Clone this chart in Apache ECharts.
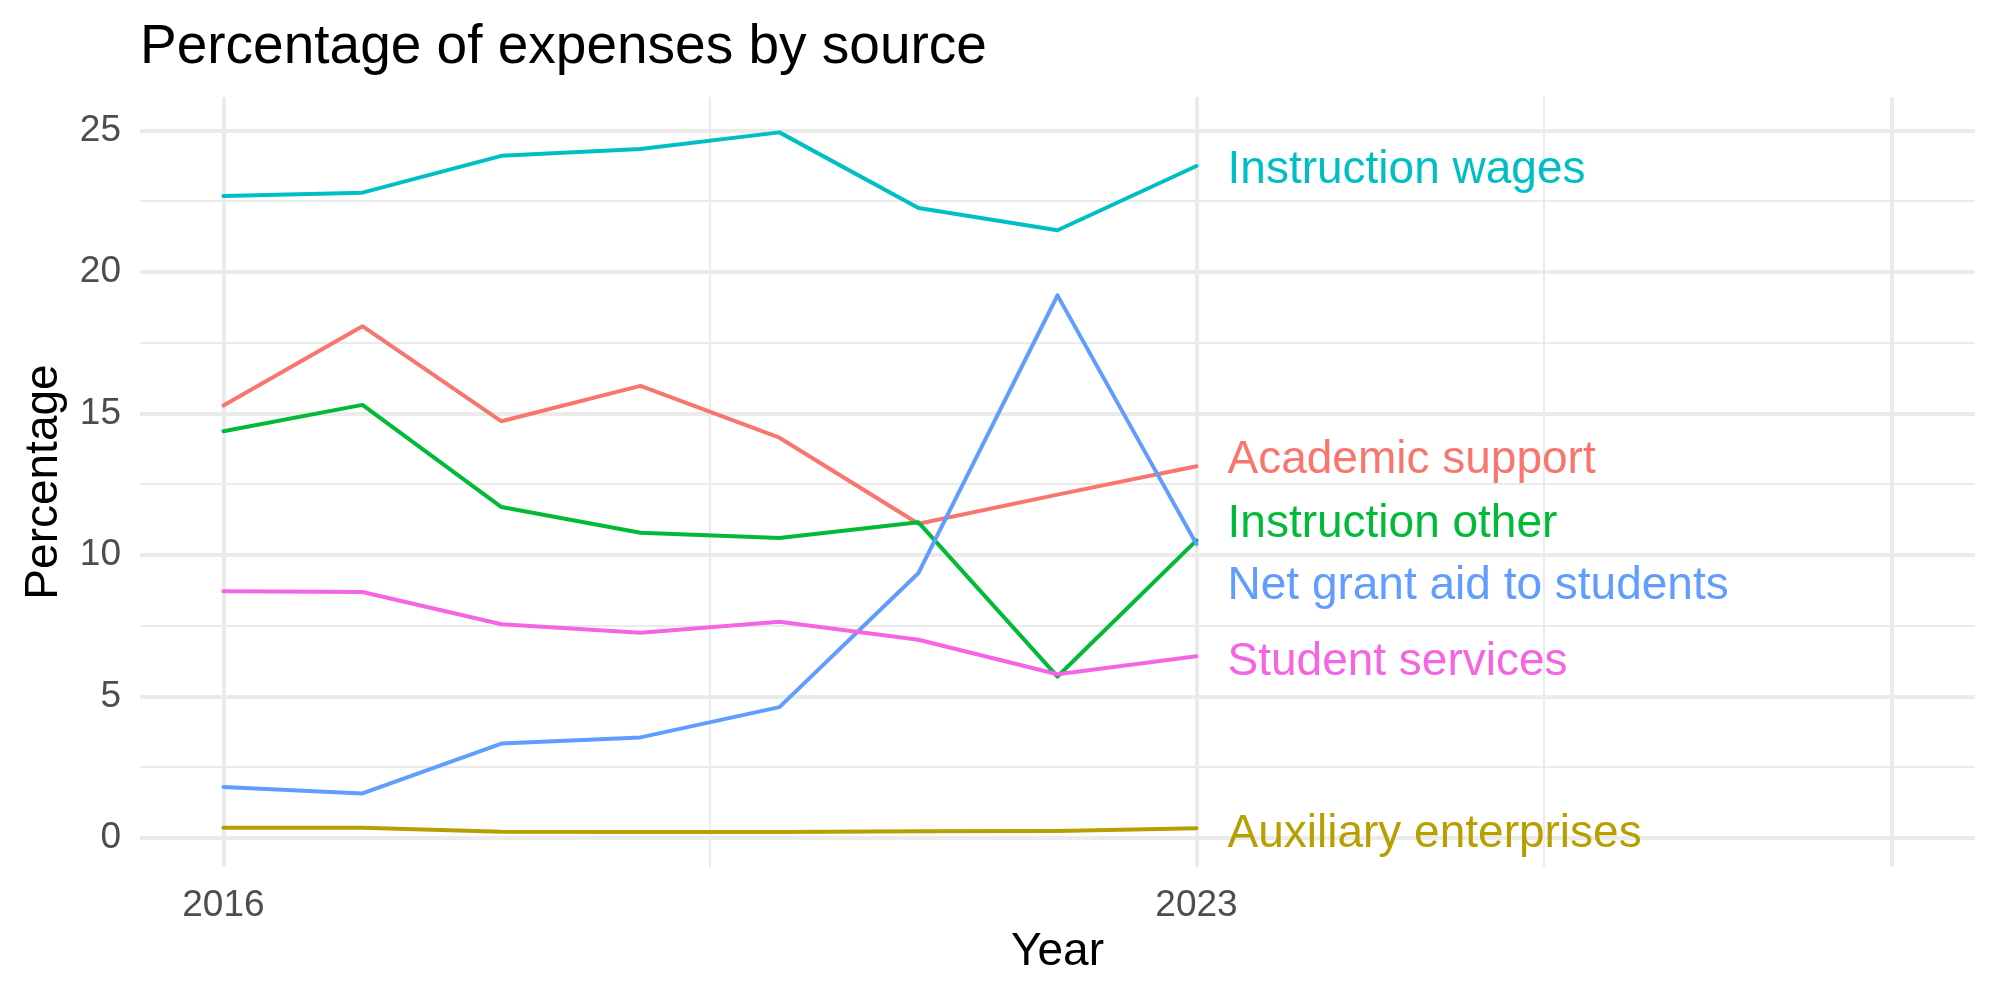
<!DOCTYPE html>
<html>
<head>
<meta charset="utf-8">
<script src="https://cdn.jsdelivr.net/npm/echarts@6/dist/echarts.min.js"></script>
<style>
html, body { margin: 0; padding: 0; background: #fff; }
#main { width: 2000px; height: 1000px; }
</style>
</head>
<body>
<div id="main"></div>
<script>
// data
const years = [2016, 2017, 2018, 2019, 2020, 2021, 2022, 2023];
const academicSupport = [15.28, 18.08, 14.72, 15.97, 14.14, 11.10, 12.13, 13.13];
const auxiliaryEnterprises = [0.36, 0.36, 0.22, 0.21, 0.21, 0.23, 0.24, 0.34];
const instructionOther = [14.37, 15.30, 11.69, 10.78, 10.60, 11.15, 5.70, 10.51];
const instructionWages = [22.68, 22.80, 24.10, 24.34, 24.93, 22.26, 21.47, 23.74];
const netGrantAid = [1.80, 1.57, 3.33, 3.55, 4.62, 9.36, 19.17, 10.38];
const studentServices = [8.71, 8.69, 7.55, 7.25, 7.64, 7.00, 5.78, 6.42];

const seriesNames = ['Academic support', 'Auxiliary enterprises', 'Instruction other',
    'Instruction wages', 'Net grant aid to students', 'Student services'];
const seriesValues = [academicSupport, auxiliaryEnterprises, instructionOther,
    instructionWages, netGrantAid, studentServices];
const colors = ['#F8766D', '#B79F00', '#00BA38', '#00BFC4', '#619CFF', '#F564E3'];
// label heights at the right end (pushed apart so they don't overlap)
const labelY = [13.51, 0.29, 11.27, 23.75, 9.06, 6.39];

const yTicks = [0, 5, 10, 15, 20, 25];
const yMinorTicks = [2.5, 7.5, 12.5, 17.5, 22.5];
const xTicks = [2016, 2023, 2028];
const xTickLabels = [2016, 2023];
const xMinorTicks = [2019.5, 2025.5];

const FONT = 'Liberation Sans';
const X_MIN = 2015.4, X_MAX = 2028.6;
const Y_MIN = -1.03, Y_MAX = 26.18;

let myChart = echarts.init(document.getElementById('main'));

let series = seriesNames.map((name, i) => ({
    name: name,
    type: 'line',
    showSymbol: false,
    symbol: 'none',
    silent: true,
    color: colors[i],
    lineStyle: { width: 4, color: colors[i], join: 'round', cap: 'round' },
    data: years.map((y, k) => [y, seriesValues[i][k]])
}));

// end labels
series.push({
    type: 'scatter',
    symbolSize: 0,
    silent: true,
    itemStyle: { opacity: 1 },
    data: seriesNames.map((name, i) => ({
        name: name,
        value: [years[years.length - 1], labelY[i]],
        label: { color: colors[i] }
    })),
    label: {
        show: true,
        position: 'right',
        distance: 31,
        offset: [0, 5],
        opacity: 1,
        formatter: '{b}',
        fontSize: 46,
        fontFamily: FONT
    }
});

myChart.setOption({
    animation: false,
    backgroundColor: '#fff',
    title: {
        text: 'Percentage of expenses by source',
        left: 135,
        top: 15,
        textStyle: { fontSize: 55, fontWeight: 'normal', color: '#000', fontFamily: FONT }
    },
    grid: { left: 140, right: 25, top: 97, bottom: 133, containLabel: false },
    xAxis: [
        {
            type: 'value',
            min: X_MIN,
            max: X_MAX,
            name: 'Year',
            nameLocation: 'middle',
            nameGap: 61,
            nameTextStyle: { fontSize: 46, color: '#000', fontFamily: FONT },
            axisLine: { show: false },
            axisTick: { show: false, customValues: xTicks },
            axisLabel: {
                customValues: xTickLabels,
                formatter: v => String(v),
                margin: 20,
                fontSize: 37,
                color: '#4d4d4d',
                fontFamily: FONT
            },
            splitLine: { show: true, lineStyle: { color: '#ebebeb', width: 4 } }
        },
        {
            type: 'value',
            min: X_MIN,
            max: X_MAX,
            position: 'bottom',
            axisLine: { show: false },
            axisTick: { show: false, customValues: xMinorTicks },
            axisLabel: { show: false },
            splitLine: { show: true, lineStyle: { color: '#ebebeb', width: 2 } }
        }
    ],
    yAxis: [
        {
            type: 'value',
            min: Y_MIN,
            max: Y_MAX,
            name: 'Percentage',
            nameLocation: 'middle',
            nameGap: 73,
            nameRotate: 90,
            nameTextStyle: { fontSize: 46, color: '#000', fontFamily: FONT },
            axisLine: { show: false },
            axisTick: { show: false, customValues: yTicks },
            axisLabel: {
                customValues: yTicks,
                margin: 19,
                fontSize: 37,
                color: '#4d4d4d',
                fontFamily: FONT
            },
            splitLine: { show: true, lineStyle: { color: '#ebebeb', width: 4 } }
        },
        {
            type: 'value',
            min: Y_MIN,
            max: Y_MAX,
            position: 'left',
            axisLine: { show: false },
            axisTick: { show: false, customValues: yMinorTicks },
            axisLabel: { show: false },
            splitLine: { show: true, lineStyle: { color: '#ebebeb', width: 2 } }
        }
    ],
    series: series
});
</script>
</body>
</html>
